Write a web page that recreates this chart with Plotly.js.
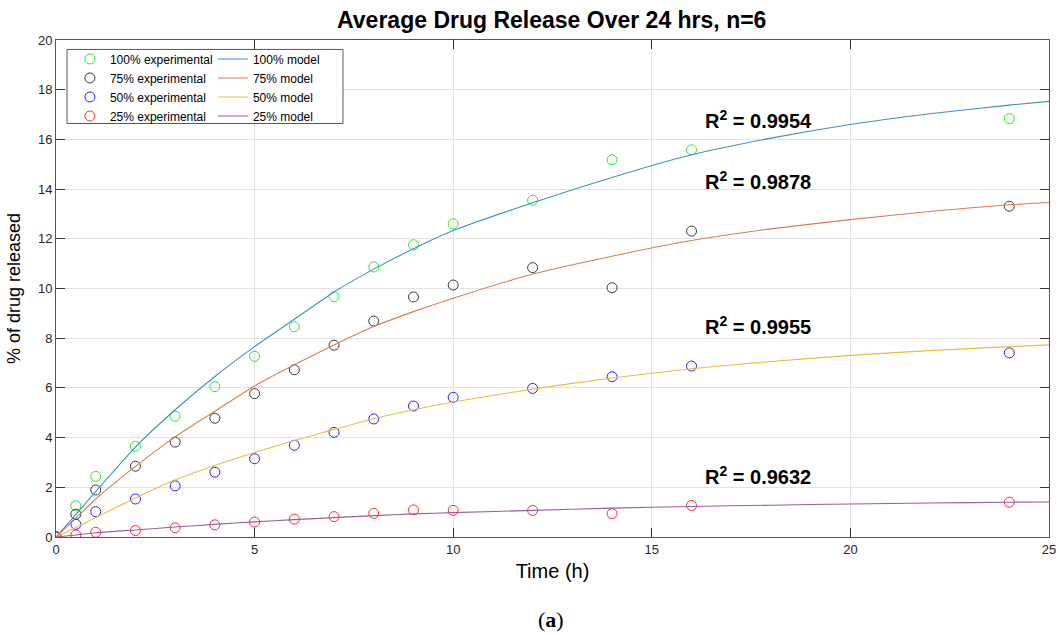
<!DOCTYPE html>
<html>
<head>
<meta charset="utf-8">
<script src="https://cdn.plot.ly/plotly-3.0.1.min.js"></script>
<style>html,body{margin:0;padding:0;background:#fff;}#chart{width:1059px;height:634px;}</style>
</head>
<body>
<div id="chart"></div>
<script>
// Experimental sampling times (h)
const timeExp = [0, 0.5, 1, 2, 3, 4, 5, 6, 7, 8, 9, 10, 12, 14, 16, 24];
// Experimental % released
const exp100 = [0, 1.25, 2.44, 3.65, 4.86, 6.05, 7.27, 8.46, 9.67, 10.87, 11.76, 12.6, 13.55, 15.18, 15.58, 16.83];
const exp75  = [0, 0.92, 1.89, 2.85, 3.82, 4.78, 5.77, 6.73, 7.72, 8.69, 9.66, 10.14, 10.84, 10.03, 12.31, 13.31];
const exp50  = [0, 0.51, 1.02, 1.53, 2.06, 2.61, 3.15, 3.69, 4.21, 4.75, 5.27, 5.62, 5.98, 6.45, 6.88, 7.41];
const exp25  = [0, 0.08, 0.19, 0.26, 0.37, 0.49, 0.6, 0.72, 0.82, 0.95, 1.09, 1.07, 1.07, 0.94, 1.27, 1.4];
// Model curves
const timeModel = [0, 0.5, 1, 2, 3, 4, 5, 6, 7, 8, 9, 10, 12, 14, 16, 18, 20, 22, 24, 25];
const model100 = [0, 0.9, 1.83, 3.62, 5.12, 6.46, 7.66, 8.76, 9.86, 10.78, 11.6, 12.33, 13.45, 14.47, 15.38, 16.05, 16.6, 17.03, 17.38, 17.53];
const model75  = [0, 0.76, 1.53, 2.84, 4.03, 5.06, 6.08, 6.93, 7.73, 8.47, 9.07, 9.61, 10.58, 11.3, 11.93, 12.4, 12.77, 13.1, 13.37, 13.46];
const model50  = [0, 0.38, 0.78, 1.57, 2.3, 2.88, 3.4, 3.88, 4.33, 4.76, 5.12, 5.43, 5.95, 6.4, 6.77, 7.06, 7.31, 7.5, 7.66, 7.73];
const model25  = [0, 0.08, 0.17, 0.28, 0.4, 0.51, 0.61, 0.7, 0.78, 0.86, 0.93, 0.98, 1.07, 1.16, 1.23, 1.28, 1.33, 1.37, 1.4, 1.41];

const expNames = ['100% experimental', '75% experimental', '50% experimental', '25% experimental'];
const modelNames = ['100% model', '75% model', '50% model', '25% model'];
const rLabels = ['R<sup>2</sup> = 0.9954', 'R<sup>2</sup> = 0.9878', 'R<sup>2</sup> = 0.9955', 'R<sup>2</sup> = 0.9632'];
const rLabelX = [16.3, 16.3, 16.3, 16.3];
const rLabelY = [16.82, 14.33, 8.5, 2.46];

const expColors = ['#22ee22', '#3a3a3a', '#2222ff', '#ff2a2a'];
const modelColors = ['#3d8fcf', '#e07a50', '#efbb40', '#9a5aa8'];

const expSeries = [exp100, exp75, exp50, exp25];
const modelSeries = [model100, model75, model50, model25];

const FONT = 'Liberation Sans, Arial, Helvetica, sans-serif';
const traces = [];
expSeries.forEach((ys, i) => {
  traces.push({
    x: timeExp, y: ys, type: 'scatter', mode: 'markers', name: expNames[i],
    marker: {symbol: 'circle-open', size: 10, color: expColors[i], line: {width: 1, color: expColors[i]}},
    legend: 'legend'
  });
});
modelSeries.forEach((ys, i) => {
  traces.push({
    x: timeModel, y: ys, type: 'scatter', mode: 'lines', name: modelNames[i],
    line: {color: modelColors[i], width: 1.1, shape: 'spline', smoothing: 0.6},
    legend: 'legend2'
  });
});

const annotations = rLabels.map((t, i) => ({
  x: rLabelX[i], y: rLabelY[i], xref: 'x', yref: 'y', text: '<b>' + t + '</b>',
  showarrow: false, xanchor: 'left', yanchor: 'middle',
  font: {family: FONT, size: 20, color: '#000'}
}));
annotations.push({
  x: 0.4985, y: -0.166, xref: 'paper', yref: 'paper', text: '(<b>a</b>)',
  showarrow: false, xanchor: 'center', yanchor: 'middle',
  font: {family: 'Liberation Serif, DejaVu Serif, serif', size: 22, color: '#000'}
});

const axisCommon = {
  showgrid: true, gridcolor: '#e3e3e3', gridwidth: 1,
  showline: true, linecolor: '#555555', linewidth: 1, mirror: 'allticks',
  ticks: 'inside', ticklen: 9, tickcolor: '#333333', tickwidth: 1,
  zeroline: false, tickfont: {family: FONT, size: 13, color: '#262626'}
};

const layout = {
  width: 1059, height: 634,
  margin: {l: 56, r: 10, t: 40, b: 97},
  paper_bgcolor: '#ffffff', plot_bgcolor: '#ffffff',
  title: {text: '<b>Average Drug Release Over 24 hrs, n=6</b>', font: {family: FONT, size: 23, color: '#000'},
          x: 0.521, xanchor: 'center', y: 0.968, yanchor: 'middle', yref: 'container'},
  xaxis: Object.assign({}, axisCommon, {range: [0, 25], tickvals: [0, 5, 10, 15, 20, 25],
          title: {text: 'Time (h)', font: {family: FONT, size: 20, color: '#000'}, standoff: 8}}),
  yaxis: Object.assign({}, axisCommon, {range: [0, 20], tickvals: [0, 2, 4, 6, 8, 10, 12, 14, 16, 18, 20],
          title: {text: '% of drug released', font: {family: FONT, size: 18, color: '#000'}, standoff: 12}}),
  legend: {x: 0.014, y: 0.991, xanchor: 'left', yanchor: 'top', bgcolor: 'rgba(0,0,0,0)', borderwidth: 0,
           font: {family: FONT, size: 12, color: '#000'}, tracegroupgap: 0},
  legend2: {x: 0.158, y: 0.991, xanchor: 'left', yanchor: 'top', bgcolor: 'rgba(0,0,0,0)', borderwidth: 0,
           font: {family: FONT, size: 12, color: '#000'}, tracegroupgap: 0},
  shapes: [{type: 'rect', xref: 'paper', yref: 'paper', x0: 0.0111, x1: 0.289, y0: 0.832, y1: 0.981,
            line: {color: '#555555', width: 1}, fillcolor: '#ffffff', layer: 'above'}],
  annotations: annotations,
  showlegend: true
};

Plotly.newPlot('chart', traces, layout, {displayModeBar: false, staticPlot: true});
</script>
</body>
</html>
